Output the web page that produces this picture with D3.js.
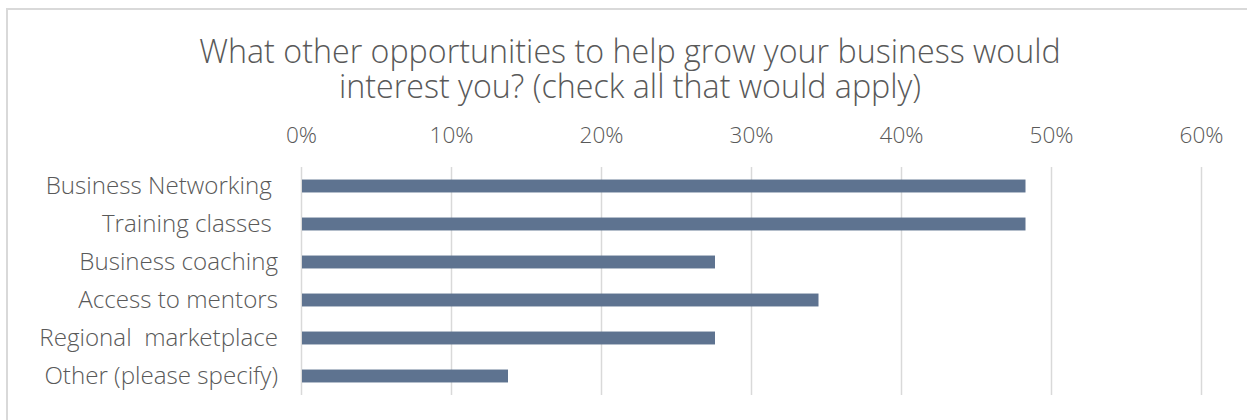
<!DOCTYPE html>
<html>
<head>
<meta charset="utf-8">
<script src="https://cdn.jsdelivr.net/npm/d3@7"></script>
<style>
  html, body { margin: 0; padding: 0; background: #fff; }
  svg { display: block; }
  text { font-family: "Open Sans", sans-serif; font-weight: 300; fill: #595959; white-space: pre; }
</style>
</head>
<body>
<svg id="chart" width="1247" height="420"></svg>
<script>
// Survey responses: share of respondents interested in each opportunity
const categories = [
  "Business Networking ",
  "Training classes ",
  "Business coaching",
  "Access to mentors",
  "Regional  marketplace",
  "Other (please specify)"
];
const shares = [0.483, 0.483, 0.276, 0.345, 0.276, 0.138];
const tickValues = [0, 0.1, 0.2, 0.3, 0.4, 0.5, 0.6];
const titleLines = [
  "What other opportunities to help grow your business would",
  "interest you? (check all that would apply)"
];

const svg = d3.select("#chart");
const W = 1247, H = 420;

// pick a font size so that a sample string spans the wanted width
function fitSize(sample, width, base) {
  const t = svg.append("text").attr("font-size", base).text(sample);
  const w = t.node().getComputedTextLength();
  t.remove();
  return base * width / w;
}
const titleSize = fitSize(titleLines[0], 862, 30);
const labelSize = (fitSize("Other (please specify)", 238, 20) + fitSize("Business Networking", 222, 20)) / 2;
const tickSize = fitSize("50%", 44, 20);

// chart frame (top and left edges visible)
svg.append("path")
  .attr("d", `M7,${H + 2} L7,9 L${W + 2},9`)
  .attr("fill", "none")
  .attr("stroke", "#d9d9d9")
  .attr("stroke-width", 2);

const plot = { left: 301, right: 1201, top: 167, bottom: 395 };

const x = d3.scaleLinear().domain([0, 0.6]).range([plot.left, plot.right]);
const y = d3.scaleBand().domain(categories).range([plot.top, plot.bottom]).paddingInner(0.66).paddingOuter(0.33);

// two-line title
svg.append("text")
  .attr("text-anchor", "middle")
  .attr("font-size", titleSize)
  .selectAll("tspan")
  .data(titleLines)
  .join("tspan")
  .attr("x", 630)
  .attr("y", (d, i) => 63 + i * 35)
  .text(d => d);

// vertical gridlines + top tick labels
const xAxis = d3.axisTop(x)
  .tickValues(tickValues)
  .tickFormat(d3.format(".0%"))
  .tickSize(-(plot.bottom - plot.top))
  .tickPadding(0);

const gx = svg.append("g")
  .attr("transform", `translate(0,${plot.top})`)
  .call(xAxis);
gx.select(".domain").remove();
gx.selectAll(".tick line")
  .attr("stroke", "#d9d9d9")
  .attr("stroke-width", 1.5);
gx.selectAll(".tick text")
  .attr("y", -24)
  .attr("dy", 0)
  .attr("font-size", tickSize)
  .attr("fill", "#595959")
  .attr("font-family", null);

// bars
svg.append("g").selectAll("rect")
  .data(categories)
  .join("rect")
  .attr("x", x(0) + 1)
  .attr("y", d => y(d))
  .attr("width", (d, i) => x(shares[i]) - x(0) - 1)
  .attr("height", y.bandwidth())
  .attr("fill", "#5e7390");

// category labels
const yAxis = d3.axisLeft(y).tickSize(0).tickPadding(23);
const gy = svg.append("g")
  .attr("transform", `translate(${plot.left},0)`)
  .call(yAxis);
gy.select(".domain").remove();
gy.selectAll(".tick text")
  .attr("dy", "0.33em")
  .attr("font-size", labelSize)
  .attr("fill", "#595959")
  .attr("font-family", null);
</script>
</body>
</html>
